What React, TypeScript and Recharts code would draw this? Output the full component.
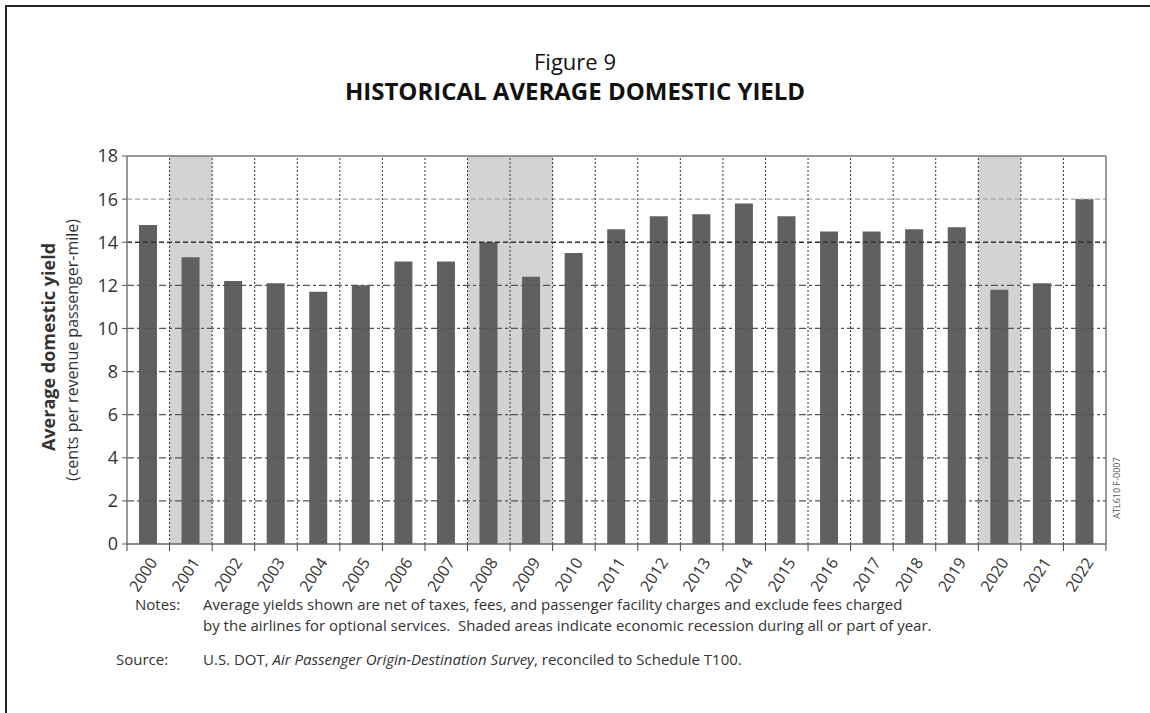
import React from 'react';
import { BarChart, Bar, XAxis, YAxis, ReferenceArea, ReferenceLine } from 'recharts';

const years = ['2000', '2001', '2002', '2003', '2004', '2005', '2006', '2007', '2008', '2009', '2010', '2011', '2012', '2013', '2014', '2015', '2016', '2017', '2018', '2019', '2020', '2021', '2022'];
const yieldCents = [14.8, 13.3, 12.2, 12.1, 11.7, 12.0, 13.1, 13.1, 14.0, 12.4, 13.5, 14.6, 15.2, 15.3, 15.8, 15.2, 14.5, 14.5, 14.6, 14.7, 11.8, 12.1, 16.0];
const recessionYears = ['2001', '2008', '2009', '2020'];
const yTicks = [0, 2, 4, 6, 8, 10, 12, 14, 16, 18];
const gridValues = [2, 4, 6, 8, 10, 12, 14, 16];

const data = years.map((y, i) => ({ year: y, value: yieldCents[i] }));

const FONT = "'Open Sans', 'Noto Sans', sans-serif";

const XTick = (props: any) => {
  const { x, y, payload, index } = props;
  const off = payload && payload.offset ? payload.offset : 0;
  const tx = x + 6;
  const ty = y + 16;
  return (
    <g>
      <line x1={x - off} x2={x - off} y1={y} y2={y + 7} stroke="#444" strokeWidth={1} />
      {index === years.length - 1 ? (
        <line x1={x + off} x2={x + off} y1={y} y2={y + 7} stroke="#444" strokeWidth={1} />
      ) : null}
      <text
        x={tx}
        y={ty}
        textAnchor="end"
        dominantBaseline="middle"
        transform={`rotate(-57, ${tx}, ${ty})`}
        fontSize={16}
        fontFamily={FONT}
        fill="#333"
      >
        {payload.value}
      </text>
    </g>
  );
};

const gridStyle = (v: number) => {
  if (v === 16) return { stroke: '#a8a8a8', strokeDasharray: '5 3', strokeWidth: 1.2 };
  if (v === 14) return { stroke: '#333', strokeDasharray: '5 3', strokeWidth: 1.6 };
  return { stroke: '#555', strokeDasharray: '7 3 3 3', strokeWidth: 1.2 };
};

export default function App() {
  return (
    <div style={{ position: 'absolute', left: 0, top: 0, width: 1150, height: 713, background: '#fff', overflow: 'hidden' }}>
      <BarChart
        width={1150}
        height={713}
        data={data}
        margin={{ top: 156, right: 44, bottom: 109, left: 67 }}
        barSize={18}
      >
        <XAxis
          dataKey="year"
          interval={0}
          tickLine={false}
          tickSize={0}
          tickMargin={0}
          height={60}
          axisLine={{ stroke: '#666', strokeWidth: 1.5 }}
          tick={<XTick />}
        />
        <YAxis
          domain={[0, 18]}
          ticks={yTicks}
          interval={0}
          width={60}
          tickSize={5}
          tickMargin={4}
          axisLine={{ stroke: '#777', strokeWidth: 1.5 }}
          tickLine={{ stroke: '#555' }}
          tick={{ fontSize: 18, fill: '#333', fontFamily: FONT }}
        />
        {recessionYears.map((yr) => (
          <ReferenceArea key={'ra' + yr} x1={yr} x2={yr} y1={0} y2={18} fill="#d2d3d5" fillOpacity={1} stroke="none" ifOverflow="hidden" />
        ))}
        {gridValues.map((v) => (
          <ReferenceLine key={'gy' + v} y={v} {...gridStyle(v)} />
        ))}
        {years.slice(1).map((yr) => (
          <ReferenceLine key={'gx' + yr} x={yr} position="start" stroke="#333" strokeDasharray="2 2" strokeWidth={1} />
        ))}
        <ReferenceLine y={18} stroke="#777" strokeWidth={1.5} />
        <ReferenceLine x={years[years.length - 1]} position="end" stroke="#777" strokeWidth={1.5} />
        <Bar dataKey="value" fill="#606061" isAnimationActive={false} />
      </BarChart>

      <svg width={1150} height={713} style={{ position: 'absolute', left: 0, top: 0, pointerEvents: 'none' }}>
        <line x1={5} y1={6} x2={1150} y2={6} stroke="#222" strokeWidth={2} />
        <line x1={6} y1={5} x2={6} y2={713} stroke="#222" strokeWidth={2} />
        <text x={575} y={70} textAnchor="middle" fontSize={22} fontFamily={FONT} fill="#111">Figure 9</text>
        <text x={575} y={100} textAnchor="middle" fontSize={24} fontWeight="bold" fontFamily={FONT} fill="#111">HISTORICAL AVERAGE DOMESTIC YIELD</text>
        <text x={55} y={347} textAnchor="middle" transform="rotate(-90, 55, 347)" fontSize={18} fontWeight="bold" fontFamily={FONT} fill="#333">Average domestic yield</text>
        <text x={78} y={350} textAnchor="middle" transform="rotate(-90, 78, 350)" fontSize={16} fontFamily={FONT} fill="#333">(cents per revenue passenger-mile)</text>
        <text x={1120} y={488} textAnchor="middle" transform="rotate(-90, 1120, 488)" fontSize={9} fontFamily={FONT} fill="#555">ATL610 F-0007</text>
        <text x={135} y={610} fontSize={15} fontFamily={FONT} fill="#333">Notes:</text>
        <text x={203} y={610} fontSize={15} fontFamily={FONT} fill="#333">Average yields shown are net of taxes, fees, and passenger facility charges and exclude fees charged</text>
        <text x={203} y={631} fontSize={15} fontFamily={FONT} fill="#333" xmlSpace="preserve">by the airlines for optional services.  Shaded areas indicate economic recession during all or part of year.</text>
        <text x={116} y={665} fontSize={15} fontFamily={FONT} fill="#333">Source:</text>
        <text x={203} y={665} fontSize={15} fontFamily={FONT} fill="#333">
          U.S. DOT, <tspan fontStyle="italic">Air Passenger Origin-Destination Survey</tspan>, reconciled to Schedule T100.
        </text>
      </svg>
    </div>
  );
}
